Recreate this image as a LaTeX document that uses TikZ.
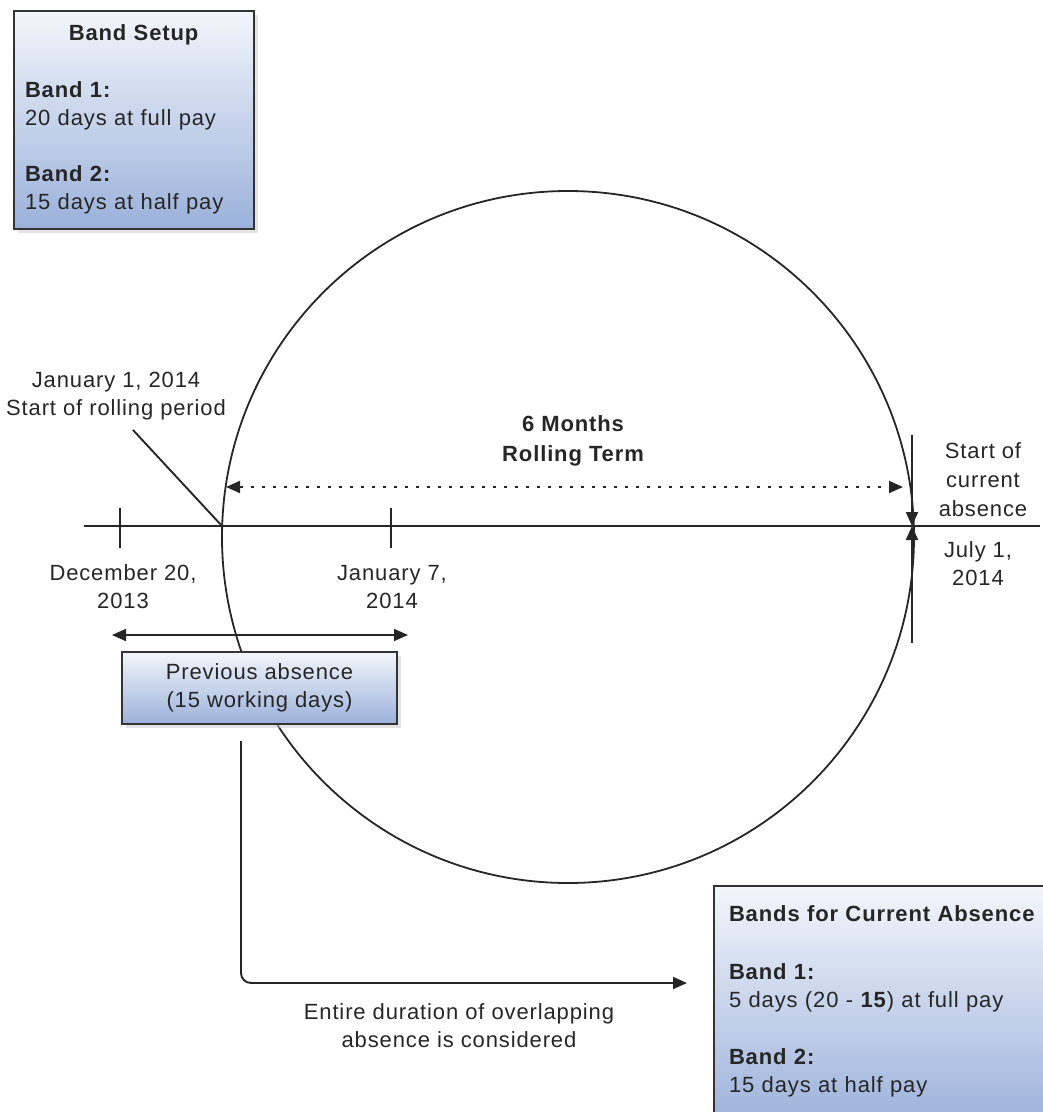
\documentclass[tikz,border=0pt]{standalone}
\usepackage{fontspec}
\setmainfont{Liberation Sans}[LetterSpace=4]
\usepackage{xcolor}
\usetikzlibrary{arrows.meta, positioning, shadows}

\definecolor{bandtop}{HTML}{F3F6FB}
\definecolor{bandbot}{HTML}{9BB1DB}

\begin{document}
\begin{tikzpicture}[
    x=1pt, y=-1pt,
    txt/.style={font=\fontsize{22}{28}\selectfont, align=center, inner sep=0pt, text=black!85},
    bandbox/.style={draw=black!80, line width=2pt, top color=bandtop, bottom color=bandbot,
                    drop shadow={shadow xshift=4pt, shadow yshift=-4pt, fill=black!22},
                    font=\fontsize{22}{28}\selectfont, text=black!85, align=left, anchor=north west},
    datetick/.style={line width=1.9pt},
    line width=1.9pt, draw=black!85, >={Triangle[length=14pt, width=12pt]}
  ]
  \useasboundingbox (0,0) rectangle (1043,1112);
  \clip (0,0) rectangle (1043,1112);

  % rolling term circle (drawn first, boxes cover it)
  \node[circle, draw, line width=1.8pt, minimum size=692pt, inner sep=0pt] (term) at (568,537) {};

  % band setup box
  \node[bandbox, text width=218pt, inner xsep=11pt, inner ysep=14pt] (setup) at (13,10)
    {\centering\textbf{Band Setup}\par\vspace{29pt}\raggedright
     \textbf{Band 1:}\par 20 days at full pay\par\vspace{28pt}
     \textbf{Band 2:}\par 15 days at half pay};

  % time line
  \coordinate (tl start) at (84,526);
  \coordinate (tl end) at (1040,526);
  \coordinate (dec20) at (120,526);
  \coordinate (jan1) at (222,526);
  \coordinate (jan7) at (391,526);
  \coordinate (jul1) at (912,526);
  \draw (tl start) -- (tl end);
  \foreach \d in {dec20, jan7}
    \draw[datetick] (\d) ++(0,-18) -- ++(0,40);

  % start of rolling period
  \node[txt] (jan1 lbl) at (116,396) {January 1, 2014\\Start of rolling period};
  \coordinate (lead) at (133,430);
  \draw (lead) -- (jan1);

  % rolling term
  \node[txt, font=\fontsize{22}{30}\selectfont\bfseries] (term lbl) at (573,441) {6 Months\\Rolling Term};
  \coordinate (term w) at (226,487);
  \coordinate (term e) at (903,487);
  \draw[<->, dash pattern=on 3.5pt off 7.5pt] (term w) -- (term e);

  % current absence
  \coordinate (cur top) at (912,435);
  \coordinate (cur bot) at (912,643);
  \draw[->] (cur top) -- (jul1);
  \draw[->] (cur bot) -- (jul1);
  \node[txt, font=\fontsize{22}{29}\selectfont] (cur lbl) at (983,480) {Start of\\current\\absence};
  \node[txt] (jul lbl) at (978,564) {July 1,\\2014};

  % previous absence
  \node[txt] (dec lbl) at (123,587) {December 20,\\2013};
  \node[txt] (jan7 lbl) at (392,587) {January 7,\\2014};
  \coordinate (prev w) at (112,635);
  \coordinate (prev e) at (408,635);
  \draw[<->] (prev w) -- (prev e);
  \node[bandbox, anchor=center, align=center, minimum width=275pt, minimum height=72pt] (prev) at (259.5,688)
    {Previous absence\\(15 working days)};

  % overlap goes to current bands
  \coordinate (elbow start) at (241,741);
  \coordinate (elbow end) at (687,983);
  \draw[->, rounded corners=10pt] (elbow start) |- (elbow end);
  \node[txt] (entire lbl) at (459,1026) {Entire duration of overlapping\\absence is considered};

  % bands for current absence
  \node[bandbox, text width=330pt, inner xsep=15pt, inner ysep=20pt] (current) at (713,885)
    {\textbf{Bands for Current Absence}\par\vspace{30pt}
     \textbf{Band 1:}\par 5 days (20 - \textbf{15}) at full pay\par\vspace{29pt}
     \textbf{Band 2:}\par 15 days at half pay\par\vspace{10pt}};
\end{tikzpicture}
\end{document}
